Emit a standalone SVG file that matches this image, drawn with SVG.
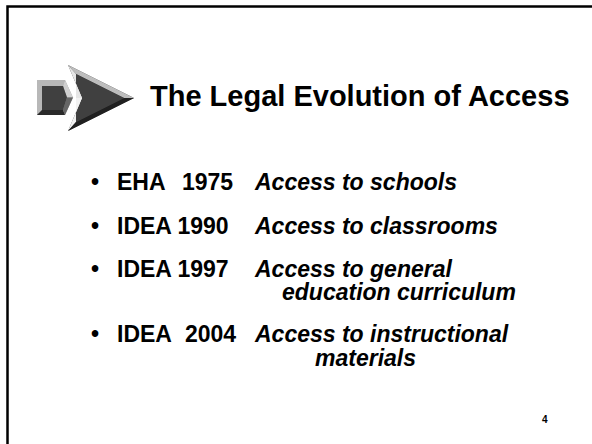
<svg xmlns="http://www.w3.org/2000/svg" width="592" height="444" viewBox="0 0 592 444">
<style>
.t{font-family:"Liberation Sans",Arial,sans-serif;font-weight:bold;fill:#000}
.b{font-size:23px}
.i{font-size:23px;font-style:italic}
</style>
<rect x="0" y="0" width="592" height="444" fill="#fff"/>
<g id="frame" fill="none" stroke="#000" stroke-width="2.5">
<path d="M7.5,444 V6.5 H592"/>
</g>
<g id="icon">
<polygon points="37,80 65,80 73,97.5 65,115 37,115" fill="#9a9a9a"/>
<polygon points="37,80 65,80 63,86 42,86 42,110 37,115" fill="#b8b8b8"/>
<polygon points="37,115 65,115 63,110 42,110" fill="#2a2a2a"/>
<polygon points="65,80 73,97.5 67,97.5 63,86" fill="#d0d0d0"/>
<polygon points="65,115 73,97.5 67,97.5 63,110" fill="#666"/>
<polygon points="42,86 63,86 67,97.5 63,110 42,110" fill="#404040"/>
<polygon points="68,65 134,98 68,131 82,98" fill="#404040"/>
<polygon points="68,65 134,98 124,98 76,74" fill="#bdbdbd"/>
<polygon points="68,65 82,98 76,98 76,74" fill="#e6e6e6"/>
<polygon points="68,131 82,98 76,98 76,122" fill="#f2f2f2"/>
<polygon points="68,131 134,98 124,98 76,122" fill="#202020"/>
<polygon points="76,74 124,98 76,122 88,98" fill="#404040"/>
</g>
<g id="title">
<text class="t" x="150" y="106" font-size="29">The Legal Evolution of Access</text>
</g>
<g id="item1">
<text class="t b" x="91" y="190">•</text>
<text class="t b" x="117" y="190">EHA</text>
<text class="t b" x="182" y="190">1975</text>
<text class="t i" x="255" y="190">Access to schools</text>
</g>
<g id="item2">
<text class="t b" x="91" y="234">•</text>
<text class="t b" x="117" y="234">IDEA 1990</text>
<text class="t i" x="255" y="234">Access to classrooms</text>
</g>
<g id="item3">
<text class="t b" x="91" y="277">•</text>
<text class="t b" x="117" y="277">IDEA 1997</text>
<text class="t i" x="255" y="277">Access to general</text>
<text class="t i" x="282" y="300">education curriculum</text>
</g>
<g id="item4">
<text class="t b" x="91" y="342">•</text>
<text class="t b" x="117" y="342">IDEA</text>
<text class="t b" x="185" y="342">2004</text>
<text class="t i" x="255" y="342">Access to instructional</text>
<text class="t i" x="315" y="366">materials</text>
</g>
<g id="pagenum">
<text class="t" x="542" y="423" font-size="10">4</text>
</g>
</svg>
